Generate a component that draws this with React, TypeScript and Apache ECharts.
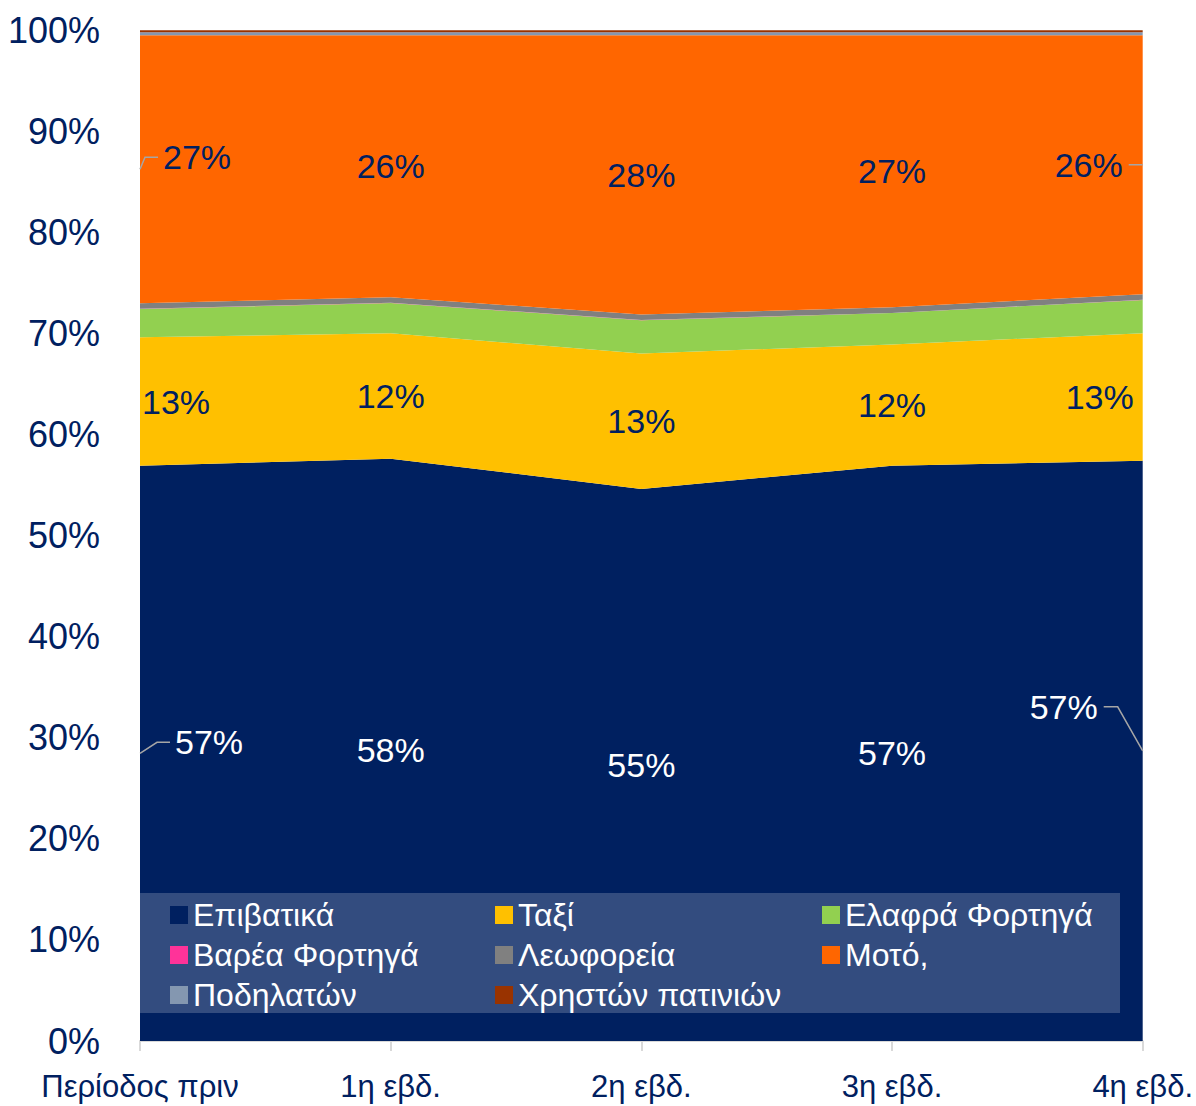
import React, { useEffect, useRef } from "react";
import * as echarts from "echarts";

const categories = ["Περίοδος πριν", "1η εβδ.", "2η εβδ.", "3η εβδ.", "4η εβδ."];
const seriesNames = [
  "Επιβατικά",
  "Ταξί",
  "Ελαφρά Φορτηγά",
  "Βαρέα Φορτηγά",
  "Λεωφορεία",
  "Μοτό,",
  "Ποδηλατών",
  "Χρηστών πατινιών",
];
const passenger = [56.9, 57.6, 54.6, 56.9, 57.4];
const taxi = [12.7, 12.4, 13.4, 12.0, 12.6];
const lightTrucks = [2.8, 3.0, 3.3, 3.1, 3.3];
const heavyTrucks = [0.02, 0.02, 0.02, 0.02, 0.02];
const buses = [0.55, 0.55, 0.55, 0.55, 0.55];
const moto = [26.5, 25.9, 27.6, 26.9, 25.6];
const bicycles = [0.3, 0.3, 0.3, 0.3, 0.3];
const scooters = [0.2, 0.2, 0.2, 0.2, 0.2];
const yTicks = [0, 10, 20, 30, 40, 50, 60, 70, 80, 90, 100];

const allValues = [passenger, taxi, lightTrucks, heavyTrucks, buses, moto, bicycles, scooters];
const colors = ["#002060", "#FFC000", "#92D050", "#FF3399", "#808080", "#FF6600", "#8497B0", "#993300"];

const NAVY = "#002060";
const FONT = "'Liberation Sans Narrow', 'Arial Narrow', 'Liberation Sans', Arial, sans-serif";
const LABEL_SIZE = 34;
const LABEL_HALF_W = 32;

// label displacement (style only) for first / last points
const labelShift: Record<string, number[][]> = {
  p: [[69, -11], [0, 0], [0, 0], [0, 0], [-79, -44]],
  t: [[36, 0], [0, 0], [0, 0], [0, 0], [-43, 0]],
  m: [[57, -12], [0, 0], [0, 0], [0, 0], [-54, 0]],
};
// leader side: 1 = label right of anchor, -1 = label left of anchor, 0 = none
const leaderSide: Record<string, number[]> = {
  p: [1, 0, 0, 0, -1],
  t: [0, 0, 0, 0, 0],
  m: [1, 0, 0, 0, -1],
};

function cumBelow(idx: number, i: number) {
  let s = 0;
  for (let k = 0; k < idx; k++) s += allValues[k][i];
  return s;
}

function labelSeries(key: string, seriesIdx: number, color: string) {
  const vals = allValues[seriesIdx];
  return {
    type: "custom",
    name: "_lbl_" + key,
    z: 10,
    silent: true,
    data: categories.map((c, i) => [i, cumBelow(seriesIdx, i) + vals[i] / 2, vals[i]]),
    renderItem: (params: any, api: any) => {
      const i = params.dataIndex;
      const pt = api.coord([api.value(0), api.value(1)]);
      const [dx, dy] = labelShift[key][i];
      const lx = pt[0] + dx;
      const ly = pt[1] + dy;
      const children: any[] = [
        {
          type: "text",
          x: lx,
          y: ly,
          style: {
            text: Math.round(api.value(2)) + "%",
            fill: color,
            font: `${LABEL_SIZE}px ${FONT}`,
            align: "center",
            verticalAlign: "middle",
          },
        },
      ];
      const side = leaderSide[key][i];
      if (side !== 0) {
        let pts: number[][];
        if (side > 0) {
          const left = lx - LABEL_HALF_W;
          pts = [pt, [Math.max(pt[0] + 5, left - 20), ly], [left - 7, ly]];
        } else {
          const right = lx + LABEL_HALF_W;
          pts = [pt, [Math.min(pt[0] - 1, right + 22), ly], [right + 8, ly]];
        }
        children.push({
          type: "polyline",
          shape: { points: pts },
          style: { stroke: "#A6A6A6", lineWidth: 1.5, fill: null },
        });
      }
      return { type: "group", children };
    },
  };
}

export default function App() {
  const ref = useRef<HTMLDivElement>(null);
  useEffect(() => {
    document.body.style.margin = "0";
    document.body.style.overflow = "hidden";
    if (!ref.current) return;
    const chart = echarts.init(ref.current, null, { renderer: "svg" });
    const areaSeries = seriesNames.map((name, i) => ({
      type: "line",
      name,
      stack: "total",
      data: allValues[i],
      showSymbol: false,
      symbol: "none",
      lineStyle: { width: 0 },
      areaStyle: { color: colors[i], opacity: 1 },
      itemStyle: { color: colors[i] },
      z: 2,
    }));
    const legendCommon = {
      orient: "vertical",
      top: 899,
      padding: 0,
      itemGap: 8,
      itemWidth: 18,
      itemHeight: 18,
      icon: "rect",
      z: 20,
      textStyle: { color: "#FFFFFF", fontSize: 32, lineHeight: 32, fontFamily: FONT },
      selectedMode: false,
    };
    chart.setOption({
      animation: false,
      backgroundColor: "#FFFFFF",
      grid: { left: 140, right: 51, top: 30, bottom: 65 },
      xAxis: {
        type: "category",
        data: categories,
        boundaryGap: false,
        axisLine: { show: true, lineStyle: { color: "#D9D9D9", width: 2 } },
        axisTick: { show: true, length: 10, lineStyle: { color: "#D9D9D9", width: 2 } },
        axisLabel: { color: NAVY, fontSize: 31, fontFamily: FONT, margin: 30, interval: 0 },
        splitLine: { show: false },
      },
      yAxis: {
        type: "value",
        min: yTicks[0],
        max: yTicks[yTicks.length - 1],
        interval: yTicks[1] - yTicks[0],
        axisLine: { show: false },
        axisTick: { show: false },
        splitLine: { show: false },
        axisLabel: { color: NAVY, fontSize: 36, fontFamily: FONT, margin: 40, formatter: "{value}%" },
      },
      legend: [
        { ...legendCommon, left: 170, data: [seriesNames[0], seriesNames[3], seriesNames[6]] },
        { ...legendCommon, left: 495, data: [seriesNames[1], seriesNames[4], seriesNames[7]] },
        { ...legendCommon, left: 822, data: [seriesNames[2], seriesNames[5]] },
      ],
      graphic: [
        {
          type: "rect",
          z: 15,
          shape: { x: 140, y: 893, width: 980, height: 120 },
          style: { fill: "rgba(255,255,255,0.2)" },
        },
      ],
      series: [
        ...areaSeries,
        labelSeries("p", 0, "#FFFFFF"),
        labelSeries("t", 1, NAVY),
        labelSeries("m", 5, NAVY),
      ],
    });
    return () => chart.dispose();
  }, []);
  return <div ref={ref} style={{ width: 1196, height: 1106 }} />;
}
